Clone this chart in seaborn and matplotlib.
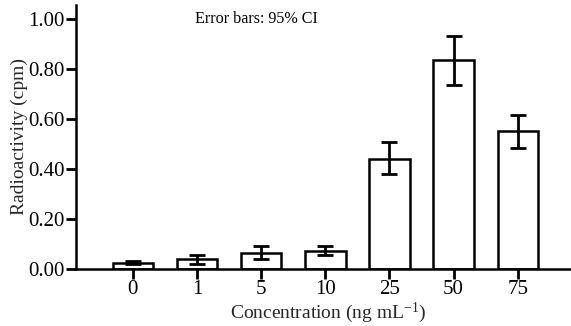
import numpy as np
import pandas as pd
import matplotlib
matplotlib.use("Agg")
import matplotlib.pyplot as plt
import seaborn as sns

# data
conc = ['0', '1', '5', '10', '25', '50', '75']
mean = [0.025, 0.040, 0.065, 0.073, 0.440, 0.836, 0.553]
ci_low = [0.018, 0.020, 0.041, 0.057, 0.380, 0.736, 0.484]
ci_high = [0.032, 0.056, 0.092, 0.092, 0.507, 0.933, 0.616]

sns.set_style("ticks")
plt.rcParams['font.family'] = ['Liberation Serif', 'DejaVu Serif']
plt.rcParams['mathtext.fontset'] = 'custom'
plt.rcParams['mathtext.rm'] = 'Liberation Serif'
plt.rcParams['mathtext.it'] = 'Liberation Serif:italic'

df = pd.DataFrame({'conc': conc, 'mean': mean})

fig = plt.figure(figsize=(5.71, 3.26), dpi=100)
ax = fig.add_axes([0.133, 0.175, 0.867, 0.81])

sns.barplot(data=df, x='conc', y='mean', order=conc, color='white',
            edgecolor='black', linewidth=1.8, width=0.63,
            errorbar=None, ax=ax)
for p in ax.patches:
    p.set_facecolor('white')

xs = np.arange(len(conc))
m = np.array(mean)
yerr = np.vstack([m - np.array(ci_low), np.array(ci_high) - m])
ax.errorbar(xs, m, yerr=yerr, fmt='none', ecolor='black',
            elinewidth=2, capsize=6, capthick=2)

ax.set_xlim(-0.888, 6.83)
ax.set_ylim(0, 1.056)
ax.set_yticks([0, 0.2, 0.4, 0.6, 0.8, 1.0])
ax.set_yticklabels(['0.00', '0.20', '0.40', '0.60', '0.80', '1.00'])

ax.set_xlabel(r'Concentration (ng mL$^{-1}$)', fontsize=14, labelpad=0)
ax.xaxis.set_label_coords(0.51, -0.12)
ax.xaxis.label.set_va('top')
ax.set_ylabel('Radioactivity (cpm)', fontsize=14, labelpad=0)
ax.tick_params(axis='both', labelsize=15, width=2, length=7, color='black',
               labelcolor='black', pad=1)

for s in ['top', 'right']:
    ax.spines[s].set_visible(False)
for s in ['left', 'bottom']:
    ax.spines[s].set_linewidth(1.8)
    ax.spines[s].set_color('black')

ax.text(1.92, 1.0, 'Error bars: 95% CI', ha='center', va='center',
        fontsize=11.6, color='black')

fig.savefig('out.png', dpi=100)
